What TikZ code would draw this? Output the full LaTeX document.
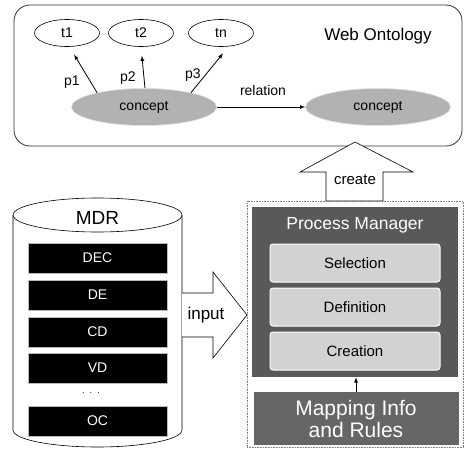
\documentclass[tikz,border=0pt]{standalone}
\usepackage{fontspec}
\setmainfont{Liberation Sans}
\usetikzlibrary{shapes.geometric,positioning}

\begin{document}
\begin{tikzpicture}[x=1pt, y=-1pt, semithick,
    term/.style={draw, ellipse, minimum width=65pt, minimum height=27pt, inner sep=0pt, font=\fontsize{14}{16}\selectfont},
    concept/.style={draw=gray!25, ellipse, fill=gray!60, minimum width=145pt, minimum height=37pt, inner sep=0pt, font=\fontsize{14}{16}\selectfont},
    lbl/.style={font=\fontsize{14}{16}\selectfont},
    bar/.style={draw=gray!55, fill=black, text=white, minimum width=139pt, minimum height=30pt, inner sep=0pt, font=\fontsize{14}{16}\selectfont},
    stage/.style={draw=white, line width=1pt, rounded corners=3pt, fill=gray!35, minimum width=170pt, minimum height=38pt, inner sep=0pt, font=\fontsize{15}{17}\selectfont}]
    \useasboundingbox (0,0) rectangle (464,450);

    % Web ontology frame
    \node[draw=black!80, thick, rounded corners=16pt, minimum width=448pt, minimum height=141pt] (web) at (238,75.5) {};
    \node[font=\fontsize{17}{20}\selectfont] (webtitle) at (378,36) {Web Ontology};

    % Terms and concepts
    \foreach \i/\x/\t in {1/67/t1, 2/141/t2, 3/221/tn} {
        \node[term] (t\i) at (\x,33) {\t};
    }
    \node[concept] (c1) at (144,107) {concept};
    \node[concept] (c2) at (378,107) {concept};

    % Properties
    \draw[-latex, thick, shorten >=9pt] (c1.163) -- (t1.280);
    \draw[-latex, thick, shorten >=9pt] (c1.87) -- (t2.south);
    \draw[-latex, thick, shorten >=9pt] (c1.17) -- (t3.300);
    \node[lbl] (p1) at (72,82) {p1};
    \node[lbl] (p2) at (128,78) {p2};
    \node[lbl] (p3) at (193,75) {p3};

    % Relation between concepts
    \draw[-latex, thick] (c1) -- (c2);
    \node[lbl] (rel) at (263,90) {relation};

    % Create arrow
    \draw[fill=white] (326,201) -- (326,172) -- (300,172) -- (355,142) -- (413,172) -- (383,172) -- (383,201) -- cycle;
    \node[font=\fontsize{15}{17}\selectfont] (createlbl) at (355,180) {create};

    % MDR cylinder
    \draw (13,215) -- (13,430) arc[start angle=180, end angle=0, x radius=84.5, y radius=17] -- (182,215);
    \draw (97.5,215) ellipse [x radius=84.5, y radius=17];
    \node[font=\fontsize{19}{22}\selectfont] (mdr) at (97.5,218) {MDR};
    \foreach \y/\t [count=\i] in {258/DEC, 295/DE, 332/CD, 368/VD, 421/OC} {
        \node[bar] (b\i) at (97.5,\y) {\t};
    }
    \node[font=\fontsize{9}{10}\selectfont] (dots) at (91,393) {.\ \ .\ \ .};

    % Input arrow
    \draw[fill=white] (182,293) -- (213,293) -- (213,272) -- (247,315) -- (213,358) -- (213,337) -- (182,337);
    \node[font=\fontsize{17}{20}\selectfont] (inputlbl) at (206,315) {input};

    % Process manager side
    \node[draw=gray, densely dotted, minimum width=216pt, minimum height=246pt] (sys) at (355,324) {};
    \node[fill=black!65, minimum width=206pt, minimum height=170pt] (pm) at (355,292) {};
    \node[text=white, font=\fontsize{17.5}{20}\selectfont] (pmtitle) at (355,225) {Process Manager};
    \node[stage] (sel) at (355,263) {Selection};
    \node[stage] (def) at (355,307) {Definition};
    \node[stage] (cre) at (355,351) {Creation};

    % Mapping info and rules
    \node[fill=black!60, text=white, align=center, minimum width=205pt, minimum height=53pt, inner sep=0pt, font=\fontsize{21}{22}\selectfont] (map) at (356,418.5) {Mapping Info\\and Rules};
    \draw[-latex, thick] (map.north) -- (map.north |- pm.south);
\end{tikzpicture}
\end{document}
